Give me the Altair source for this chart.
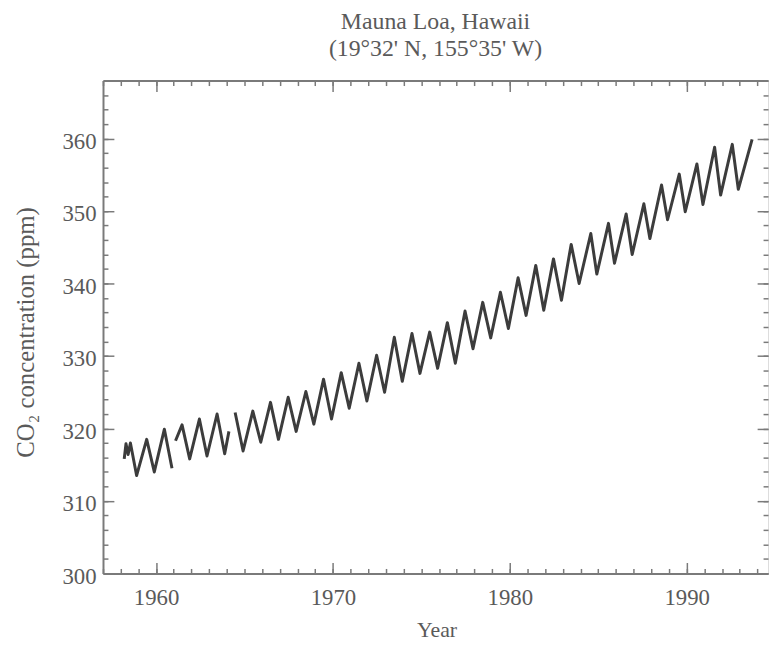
import altair as alt
import pandas as pd

# ---- data (decimal year, ppm) ----
seg1_t = [1958.20, 1958.30, 1958.42, 1958.55, 1958.90, 1959.47, 1959.90, 1960.47, 1960.90]
seg1_v = [315.8, 317.9, 316.4, 318.0, 313.5, 318.5, 314.0, 319.9, 314.5]

seg2_t = [1961.10, 1961.47, 1961.90, 1962.45, 1962.88, 1963.45, 1963.88, 1964.12]
seg2_v = [318.3, 320.5, 315.8, 321.3, 316.2, 322.0, 316.5, 319.6]

seg3_years = list(range(1964, 1993))
seg3_peak = [322.2, 322.4, 323.6, 324.3, 325.1, 326.8, 327.7, 329.0, 330.1, 332.6,
             333.1, 333.3, 334.6, 336.2, 337.4, 338.8, 340.8, 342.5, 343.4, 345.4,
             346.9, 348.3, 349.6, 351.0, 353.6, 355.1, 356.5, 358.8, 359.2]
seg3_trough = [316.9, 318.1, 318.5, 319.6, 320.6, 321.3, 322.8, 323.8, 325.0, 326.5,
               327.6, 328.3, 329.0, 331.0, 332.5, 333.8, 335.6, 336.3, 337.7, 340.0,
               341.3, 342.8, 344.0, 346.2, 348.8, 349.9, 350.9, 352.2, 353.0]
end_t = [1993.70]
end_v = [359.9]

x_major = [1960, 1970, 1980, 1990]
x_minor = list(range(1957, 1995))
y_major = [300, 310, 320, 330, 340, 350, 360]
y_minor = list(range(300, 369, 2))

rows = []
for t, v in zip(seg1_t, seg1_v):
    rows.append({"t": t, "co2": v, "seg": 1})
for t, v in zip(seg2_t, seg2_v):
    rows.append({"t": t, "co2": v, "seg": 2})
for yr, p, tr in zip(seg3_years, seg3_peak, seg3_trough):
    ph = 0.47 if yr < 1984 else 0.58
    rows.append({"t": yr + ph, "co2": p, "seg": 3})
    rows.append({"t": yr + 0.92, "co2": tr, "seg": 3})
for t, v in zip(end_t, end_v):
    rows.append({"t": t, "co2": v, "seg": 3})
df = pd.DataFrame(rows)

W, H = 672, 498
FONT = "Liberation Serif"
TXT = "#5a5a5a"
AX = "#7a7a7a"
xs = alt.Scale(domain=[1957, 1994.6], nice=False, zero=False)
ys = alt.Scale(domain=[300, 368], nice=False, zero=False)


def tick_axis(orient, offset, values, size, domain=False):
    return alt.Axis(orient=orient, offset=offset, values=values, tickSize=size,
                    labels=False, domain=domain, domainColor=AX, domainWidth=2,
                    tickColor=AX, tickWidth=1.5, grid=False, title=None)


def ghost(xaxis, yaxis):
    return alt.Chart(df).mark_line(strokeOpacity=0).encode(
        x=alt.X("t:Q", scale=xs, axis=xaxis),
        y=alt.Y("co2:Q", scale=ys, axis=yaxis),
        detail="seg:N",
    )


g1 = ghost(tick_axis("top", -H, x_minor, 5), tick_axis("right", -W, y_minor, 5))
g2 = ghost(tick_axis("top", -H, x_major, 11), tick_axis("right", -W, y_major, 11))
g3 = ghost(tick_axis("bottom", -H, x_minor, 5, domain=True), tick_axis("left", -W, y_minor, 5))
g4 = ghost(tick_axis("bottom", -H, x_major, 11), tick_axis("left", -W, y_major, 11))

line = alt.Chart(df).mark_line(color="#3c3c3c", strokeWidth=3, strokeJoin="round").encode(
    x=alt.X("t:Q", scale=xs, axis=alt.Axis(
        orient="bottom", values=x_major, ticks=False, tickSize=0, domain=True,
        domainColor=AX, domainWidth=2, grid=False, labelFont=FONT, labelFontSize=23,
        labelColor=TXT, labelPadding=13, format="d", title="Year", titleFont=FONT,
        titleFontSize=22, titleFontWeight="normal", titleColor=TXT, titleX=W / 2 + 1,
        titleY=64, titleBaseline="alphabetic", titleAlign="center")),
    y=alt.Y("co2:Q", scale=ys, axis=alt.Axis(
        orient="left", values=y_major, ticks=False, tickSize=0, domain=True,
        domainColor=AX, domainWidth=2, grid=False, labelFont=FONT, labelFontSize=23,
        labelColor=TXT, labelPadding=7, labelBaseline="middle", labelOffset=3,
        title="CO₂ concentration (ppm)", titleFont=FONT, titleFontSize=25,
        titleFontWeight="normal", titleColor=TXT, titleAngle=270, titleX=-70,
        titleY=H / 2 + 5, titleAlign="center", titleBaseline="alphabetic")),
    detail="seg:N",
)

chart = alt.layer(g1, g2, g3, g4, line).resolve_axis(
    x="independent", y="independent"
).properties(
    width=W, height=H,
    autosize=alt.AutoSizeParams(type="none"),
    padding={"left": 96, "top": 70, "right": 2, "bottom": 71},
    title=alt.TitleParams(
        text=["Mauna Loa, Hawaii", "(19°32' N, 155°35' W)"],
        font=FONT, fontSize=24, fontWeight="normal", color=TXT,
        lineHeight=27, anchor="middle", frame="group", offset=19),
).configure_view(strokeOpacity=0).configure(background="white")

chart.save("out.html", embed_options={"renderer": "svg", "actions": False})
